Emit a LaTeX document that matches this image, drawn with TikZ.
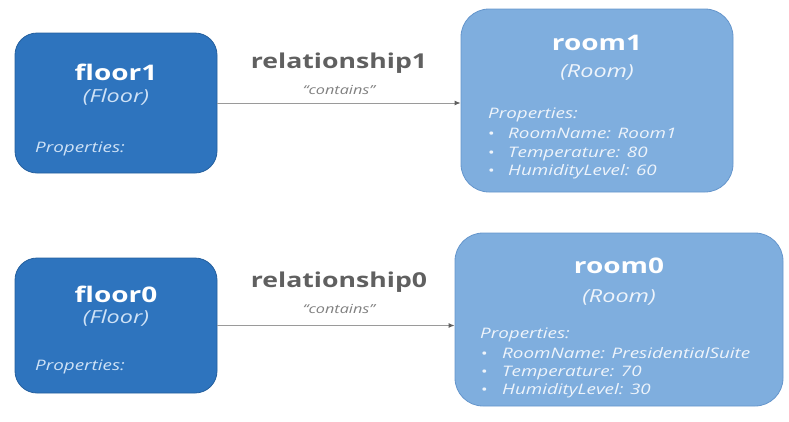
\documentclass[tikz,border=0pt]{standalone}
\usepackage{fontspec}
\setmainfont{Open Sans}[FakeStretch=1.3]
\usetikzlibrary{arrows.meta}
\definecolor{floorblue}{HTML}{2E74BE}
\definecolor{floorline}{HTML}{245F9E}
\definecolor{roomblue}{HTML}{7FAEDE}
\definecolor{roomline}{HTML}{6596CC}
\definecolor{paletext}{HTML}{CFE2F6}
\definecolor{roomtext}{HTML}{EEF4FB}
\definecolor{reltext}{HTML}{606060}
\definecolor{arrowgrey}{HTML}{9A9A9A}
\newcommand{\fs}[1]{\fontsize{#1}{#1}\selectfont}
\tikzset{
  floorbox/.style={draw=floorline, line width=0.8pt, fill=floorblue, rounded corners=22pt, inner sep=0pt},
  roombox/.style={draw=roomline, line width=0.8pt, fill=roomblue, rounded corners=28pt, inner sep=0pt},
  titletext/.style={anchor=base, inner sep=0pt, text=white, font=\fs{21.5}\bfseries},
  typetext/.style={anchor=base, inner sep=0pt, text=paletext, font=\fs{18}\itshape},
  proptext/.style={anchor=base west, inner sep=0pt, text=paletext, font=\fs{14.5}\itshape},
  roomtype/.style={typetext, text=roomtext},
  roomprop/.style={proptext, text=roomtext},
  itemtext/.style={anchor=base west, inner sep=0pt, text=roomtext, font=\fs{14.5}\itshape},
  bullettext/.style={anchor=base west, inner sep=0pt, text=roomtext, font=\fs{13.5}},
  reltitle/.style={anchor=base, inner sep=0pt, text=reltext, font=\fs{20.5}\bfseries},
  relkind/.style={anchor=base, inner sep=0pt, text=reltext!80!white, font=\fs{12.5}\itshape},
  relarrow/.style={draw=arrowgrey, line width=1pt, -{Latex[length=6pt,width=5pt,color=reltext]}}
}
\begin{document}
\begin{tikzpicture}[x=1pt,y=-1pt]
\useasboundingbox (0,0) rectangle (789,421);

% ---- upper row ----
\node[floorbox, minimum width=202pt, minimum height=140pt] (floor1) at (116,103) {};
\node[titletext] (floor1title) at (116,80) {floor1};
\node[typetext] (floor1type) at (116,102) {(Floor)};
\node[proptext] (floor1props) at (35,152) {Properties:};

\node[roombox, minimum width=272pt, minimum height=183pt] (room1) at (597,100.5) {};
\node[titletext] (room1title) at (597,50) {room1};
\node[roomtype] (room1type) at (597,77) {(Room)};
\node[roomprop] (room1props) at (488,118) {Properties:};
\node[bullettext] (room1b1) at (488,138) {•};
\node[itemtext] (room1p1) at (508,138) {RoomName: Room1};
\node[bullettext] (room1b2) at (488,157) {•};
\node[itemtext] (room1p2) at (508,157) {Temperature: 80};
\node[bullettext] (room1b3) at (488,175) {•};
\node[itemtext] (room1p3) at (508,175) {HumidityLevel: 60};

\draw[relarrow] (floor1.east) -- (floor1.east -| room1.west);
\node[reltitle] (rel1) at (339,68) {relationship1};
\node[relkind] (rel1kind) at (339,94) {“contains”};

% ---- lower row ----
\node[floorbox, minimum width=202pt, minimum height=135pt] (floor0) at (116,325.5) {};
\node[titletext] (floor0title) at (116,302) {floor0};
\node[typetext] (floor0type) at (116,323) {(Floor)};
\node[proptext] (floor0props) at (35,370) {Properties:};

\node[roombox, minimum width=328pt, minimum height=173pt] (room0) at (619,319.5) {};
\node[titletext] (room0title) at (619,273) {room0};
\node[roomtype] (room0type) at (619,302) {(Room)};
\node[roomprop] (room0props) at (480,338) {Properties:};
\node[bullettext] (room0b1) at (481,358) {•};
\node[itemtext] (room0p1) at (502,358) {RoomName: PresidentialSuite};
\node[bullettext] (room0b2) at (481,376) {•};
\node[itemtext] (room0p2) at (502,376) {Temperature: 70};
\node[bullettext] (room0b3) at (481,394) {•};
\node[itemtext] (room0p3) at (502,394) {HumidityLevel: 30};

\draw[relarrow] (floor0.east) -- (floor0.east -| room0.west);
\node[reltitle] (rel0) at (339,287) {relationship0};
\node[relkind] (rel0kind) at (339,313) {“contains”};
\end{tikzpicture}
\end{document}
